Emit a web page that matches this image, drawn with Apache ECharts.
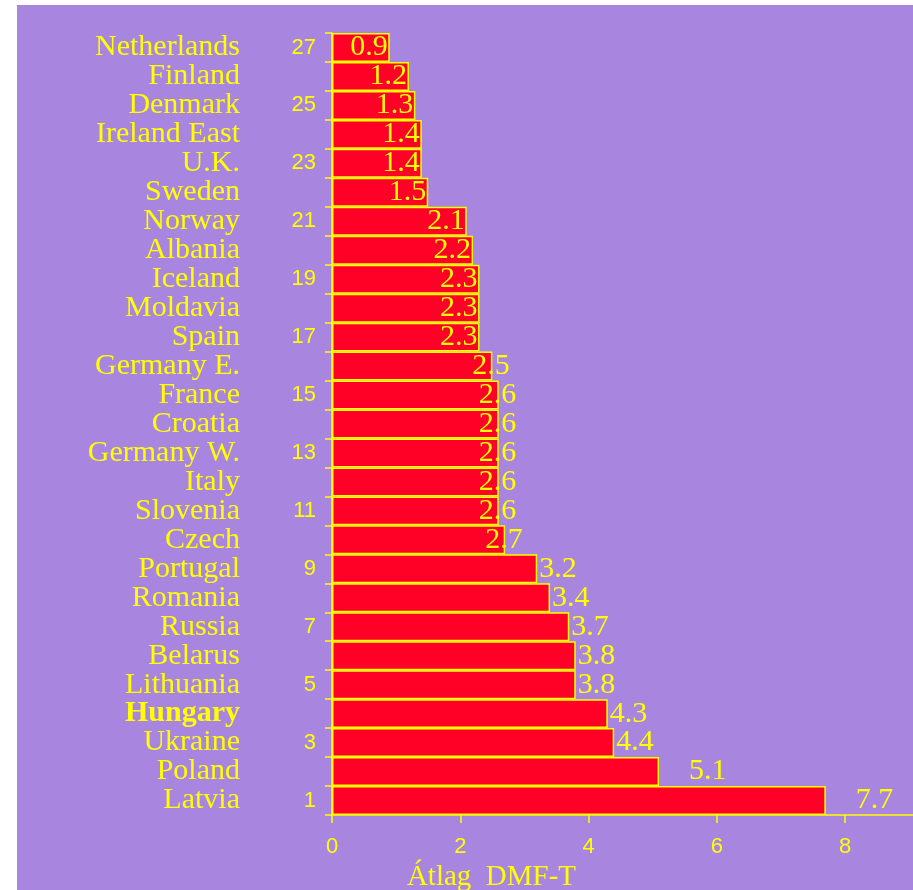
<!DOCTYPE html>
<html>
<head>
<meta charset="utf-8">
<script src="https://cdn.jsdelivr.net/npm/echarts@6/dist/echarts.min.js"></script>
<style>
html,body{margin:0;padding:0;background:#ffffff;width:913px;height:890px;overflow:hidden;}
#chart{position:absolute;left:17px;top:5px;width:896px;height:885px;}
</style>
</head>
<body>
<div id="chart"></div>
<script>
// bottom (rank 1) to top (rank 27)
var countries = ['Latvia','Poland','Ukraine','Hungary','Lithuania','Belarus','Russia','Romania','Portugal','Czech',
  'Slovenia','Italy','Germany W.','Croatia','France','Germany E.','Spain','Moldavia','Iceland','Albania',
  'Norway','Sweden','U.K.','Ireland East','Denmark','Finland','Netherlands'];
var ranks = ['1','2','3','4','5','6','7','8','9','10','11','12','13','14','15','16','17','18','19','20','21','22','23','24','25','26','27'];
var dmft = [7.7,5.1,4.4,4.3,3.8,3.8,3.7,3.4,3.2,2.7,2.6,2.6,2.6,2.6,2.6,2.5,2.3,2.3,2.3,2.2,2.1,1.5,1.4,1.4,1.3,1.2,0.9];
var xTicks = [0,2,4,6,8];
var highlight = 'Hungary';

var YEL = '#FFFF00';
var chart = echarts.init(document.getElementById('chart'));

var seriesData = dmft.map(function (v) {
  var lab;
  if (v < 2.45) lab = {position: 'insideRight', distance: 2};
  else if (v < 3) lab = {position: 'right', distance: 0, offset: [-20, 0]};
  else if (v < 5) lab = {position: 'right', distance: 2};
  else lab = {position: 'right', distance: 30};
  return {value: v, label: lab};
});

chart.setOption({
  backgroundColor: '#A886DF',
  animation: false,
  grid: {left: 315, top: 28, right: 0, bottom: 75, containLabel: false, outerBoundsMode: 'none'},
  xAxis: {
    type: 'value', min: 0, max: 9.06, interval: 2,
    axisLine: {show: true, lineStyle: {color: YEL, width: 1.5}},
    axisTick: {show: true, length: 8, lineStyle: {color: YEL, width: 1.5}},
    splitLine: {show: false},
    axisLabel: {color: YEL, fontFamily: 'Liberation Sans', fontSize: 22, margin: 21, showMaxLabel: false,
      formatter: function (v) { return xTicks.indexOf(v) >= 0 ? String(v) : ''; }},
    name: 'Átlag  DMF-T', nameLocation: 'middle', nameGap: 42,
    nameTextStyle: {color: YEL, fontFamily: 'Liberation Serif', fontSize: 29, padding: [0, 262, 0, 0]}
  },
  yAxis: [{
    type: 'category', data: ranks, position: 'left',
    axisLine: {show: true, lineStyle: {color: YEL, width: 1.5}},
    axisTick: {show: true, interval: 0, length: 7, lineStyle: {color: YEL, width: 1.5}},
    axisLabel: {interval: 1, color: YEL, fontFamily: 'Liberation Sans', fontSize: 22, margin: 16}
  }, {
    type: 'category', data: countries, position: 'left',
    axisLine: {show: false}, axisTick: {show: false},
    axisLabel: {interval: 0, margin: 92, color: YEL, fontFamily: 'Liberation Serif', fontSize: 30,
      formatter: function (v) { return v === highlight ? '{b|' + v + '}' : v; },
      rich: {b: {fontWeight: 'bold', color: YEL, fontFamily: 'Liberation Serif', fontSize: 30}}}
  }],
  series: [{
    type: 'bar', yAxisIndex: 0, data: seriesData, barCategoryGap: 0,
    itemStyle: {color: '#FF0026', borderColor: YEL, borderWidth: 1.5},
    label: {show: true, color: YEL, fontFamily: 'Liberation Serif', fontSize: 30,
      formatter: function (p) { return p.value.toFixed(1); }}
  }]
});
</script>
</body>
</html>
